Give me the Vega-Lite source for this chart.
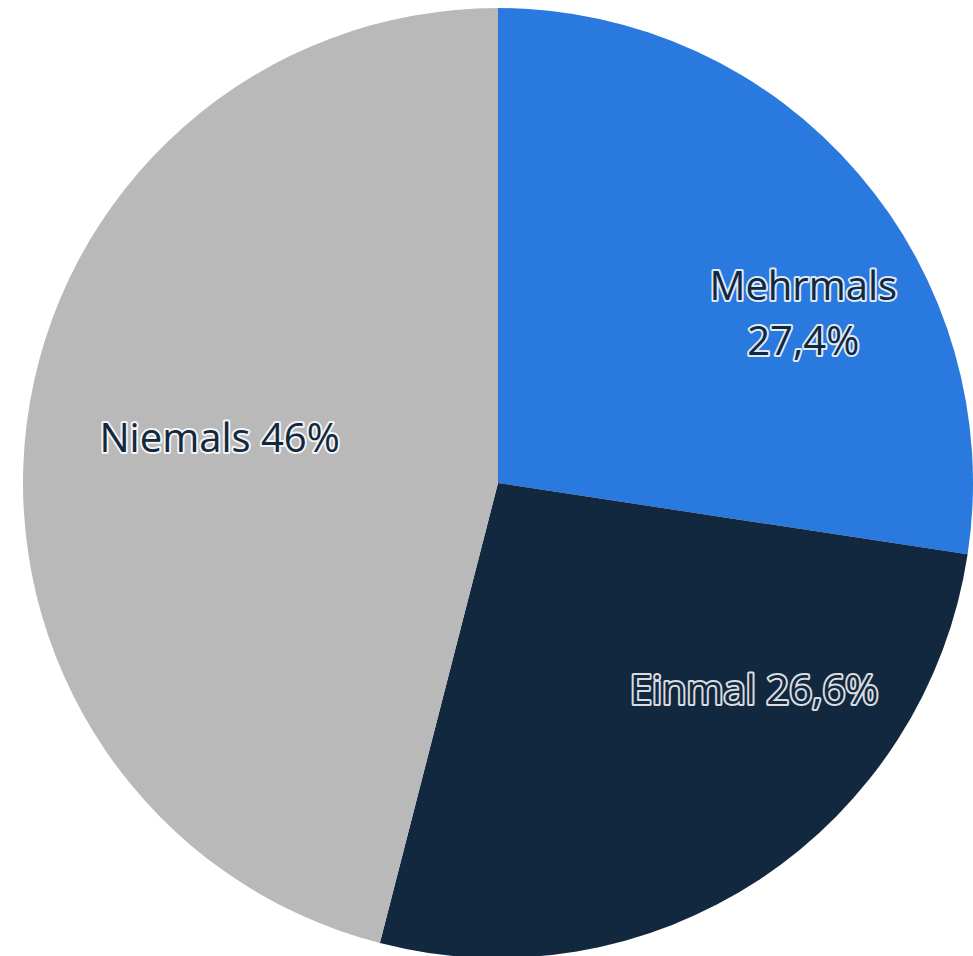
{
  "$schema": "https://vega.github.io/schema/vega-lite/v6.json",
  "autosize": {"type": "none"},
  "width": 996,
  "height": 966,
  "padding": 0,
  "background": "white",
  "config": {"view": {"stroke": null}},
  "data": {"values": [
    {"kategorie": "Mehrmals", "anteil": 27.4, "label": "Mehrmals\n27,4%"},
    {"kategorie": "Einmal", "anteil": 26.6, "label": "Einmal 26,6%"},
    {"kategorie": "Niemals", "anteil": 46.0, "label": "Niemals 46%"}
  ]},
  "transform": [{"window": [{"op": "row_number", "as": "rang"}]}],
  "encoding": {
    "theta": {"field": "anteil", "type": "quantitative", "stack": true},
    "order": {"field": "rang", "type": "quantitative"}
  },
  "layer": [
    {
      "mark": {"type": "arc", "outerRadius": 475},
      "encoding": {
        "color": {"field": "kategorie", "type": "nominal", "legend": null,
          "scale": {"domain": ["Mehrmals", "Einmal", "Niemals"], "range": ["#2979DE", "#12283F", "#B9B9B9"]}}
      }
    },
    {
      "mark": {"type": "text", "radius": 330, "dx": 55, "dy": 20, "font": "Open Sans", "fontSize": 40, "lineBreak": "\n", "lineHeight": 55, "align": "center", "baseline": "middle", "fill": "#12283F", "stroke": "white", "strokeWidth": 4, "strokeOpacity": 0.85, "strokeJoin": "round"},
      "encoding": {"text": {"condition": {"test": "datum.kategorie === 'Mehrmals'", "field": "label"}, "value": ""}}
    },
    {
      "mark": {"type": "text", "radius": 330, "dx": 74, "dy": -66, "font": "Open Sans", "fontSize": 40, "align": "center", "baseline": "middle", "fill": "#12283F", "stroke": "white", "strokeWidth": 4, "strokeOpacity": 0.85, "strokeJoin": "round"},
      "encoding": {"text": {"condition": {"test": "datum.kategorie === 'Einmal'", "field": "label"}, "value": ""}}
    },
    {
      "mark": {"type": "text", "radius": 330, "dx": 49, "dy": -2, "font": "Open Sans", "fontSize": 40, "align": "center", "baseline": "middle", "fill": "#12283F", "stroke": "white", "strokeWidth": 4, "strokeOpacity": 0.85, "strokeJoin": "round"},
      "encoding": {"text": {"condition": {"test": "datum.kategorie === 'Niemals'", "field": "label"}, "value": ""}}
    },
    {
      "mark": {"type": "text", "radius": 330, "dx": 55, "dy": 20, "font": "Open Sans", "fontSize": 40, "lineBreak": "\n", "lineHeight": 55, "align": "center", "baseline": "middle", "fill": "#12283F"},
      "encoding": {"text": {"condition": {"test": "datum.kategorie === 'Mehrmals'", "field": "label"}, "value": ""}}
    },
    {
      "mark": {"type": "text", "radius": 330, "dx": 74, "dy": -66, "font": "Open Sans", "fontSize": 40, "align": "center", "baseline": "middle", "fill": "#12283F"},
      "encoding": {"text": {"condition": {"test": "datum.kategorie === 'Einmal'", "field": "label"}, "value": ""}}
    },
    {
      "mark": {"type": "text", "radius": 330, "dx": 49, "dy": -2, "font": "Open Sans", "fontSize": 40, "align": "center", "baseline": "middle", "fill": "#12283F"},
      "encoding": {"text": {"condition": {"test": "datum.kategorie === 'Niemals'", "field": "label"}, "value": ""}}
    }
  ]
}
